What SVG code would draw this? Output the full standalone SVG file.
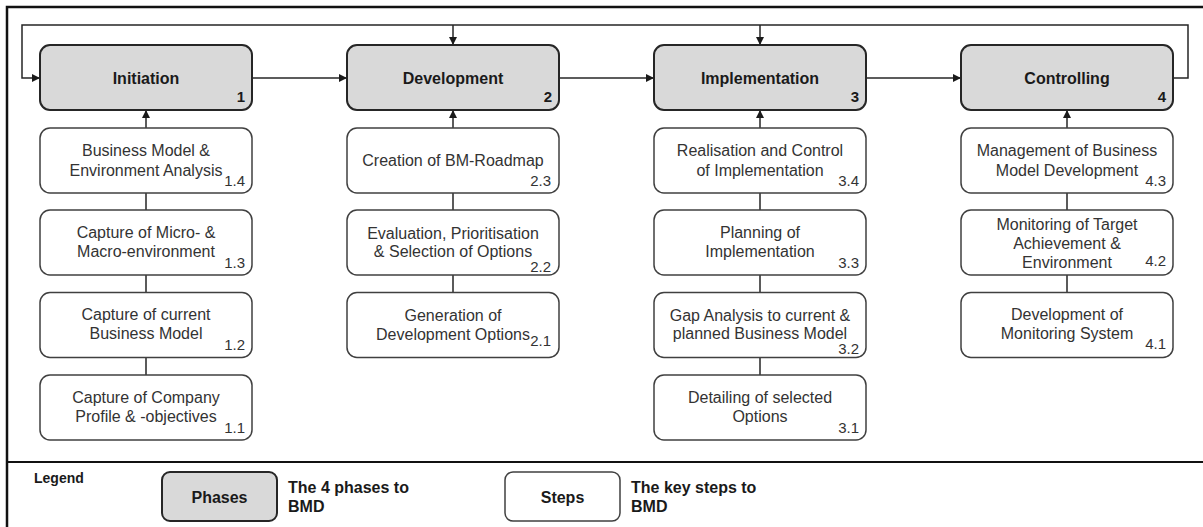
<svg xmlns="http://www.w3.org/2000/svg" width="1203" height="527" viewBox="0 0 1203 527">
  <style>
    .phase { fill: #d9d9d9; stroke: #262626; stroke-width: 2; }
    .step { fill: #ffffff; stroke: #404040; stroke-width: 1.5; }
    .title { font-family: "Liberation Sans", Arial, sans-serif; font-size: 16px; font-weight: bold; fill: #1a1a1a; text-anchor: middle; }
    .pnum { font-family: "Liberation Sans", Arial, sans-serif; font-size: 15px; font-weight: bold; fill: #1a1a1a; text-anchor: end; }
    .txt { font-family: "Liberation Sans", Arial, sans-serif; font-size: 16px; fill: #333333; text-anchor: middle; }
    .snum { font-family: "Liberation Sans", Arial, sans-serif; font-size: 15px; fill: #333333; text-anchor: end; }
    .leg { font-family: "Liberation Sans", Arial, sans-serif; font-weight: bold; fill: #1a1a1a; }
    .conn { fill: none; stroke: #262626; stroke-width: 1.5; }
    .frame { fill: none; stroke: #111111; stroke-width: 2.5; }
  </style>
  <defs>
    <marker id="arrow" viewBox="0 0 10 10" refX="10" refY="5" markerWidth="8" markerHeight="8" markerUnits="userSpaceOnUse" orient="auto">
      <path d="M0,0 L10,5 L0,10 Z" fill="#1a1a1a"/>
    </marker>
  </defs>

  <rect width="1203" height="527" fill="#ffffff"/>

  <!-- outer frame and legend separator -->
  <g id="frame">
    <path class="frame" d="M7,530 V7 H1210"/>
    <line x1="7" y1="462" x2="1203" y2="462" stroke="#111111" stroke-width="2"/>
  </g>

  <!-- connectors -->
  <g id="connectors">
    <path class="conn" d="M1173,78 H1188 V25 H22 V78 H40" marker-end="url(#arrow)"/>
    <path class="conn" d="M453,25 V45" marker-end="url(#arrow)"/>
    <path class="conn" d="M760,25 V45" marker-end="url(#arrow)"/>
    <path class="conn" d="M252,78 H347" marker-end="url(#arrow)"/>
    <path class="conn" d="M559,78 H654" marker-end="url(#arrow)"/>
    <path class="conn" d="M866,78 H961" marker-end="url(#arrow)"/>
    <path class="conn" d="M146,128 V110" marker-end="url(#arrow)"/>
    <path class="conn" d="M453,128 V110" marker-end="url(#arrow)"/>
    <path class="conn" d="M760,128 V110" marker-end="url(#arrow)"/>
    <path class="conn" d="M1067,128 V110" marker-end="url(#arrow)"/>
    <path class="conn" d="M146,193 V210 M146,275 V292.5 M146,357.5 V375"/>
    <path class="conn" d="M453,193 V210 M453,275 V292.5"/>
    <path class="conn" d="M760,193 V210 M760,275 V292.5 M760,357.5 V375"/>
    <path class="conn" d="M1067,193 V210 M1067,275 V292.5"/>
  </g>

  <!-- phases -->
  <g id="phase-1">
    <rect class="phase" x="40" y="45" width="212" height="65" rx="10"/>
    <text class="title" x="146" y="84">Initiation</text>
    <text class="pnum" x="245" y="102">1</text>
  </g>
  <g id="phase-2">
    <rect class="phase" x="347" y="45" width="212" height="65" rx="10"/>
    <text class="title" x="453" y="84">Development</text>
    <text class="pnum" x="552" y="102">2</text>
  </g>
  <g id="phase-3">
    <rect class="phase" x="654" y="45" width="212" height="65" rx="10"/>
    <text class="title" x="760" y="84">Implementation</text>
    <text class="pnum" x="859" y="102">3</text>
  </g>
  <g id="phase-4">
    <rect class="phase" x="961" y="45" width="212" height="65" rx="10"/>
    <text class="title" x="1067" y="84">Controlling</text>
    <text class="pnum" x="1166" y="102">4</text>
  </g>

  <!-- steps: Initiation -->
  <g id="step-1-4">
    <rect class="step" x="40" y="128" width="212" height="65" rx="10"/>
    <text class="txt" x="146" y="156">Business Model &amp;</text>
    <text class="txt" x="146" y="176">Environment Analysis</text>
    <text class="snum" x="245" y="186">1.4</text>
  </g>
  <g id="step-1-3">
    <rect class="step" x="40" y="210" width="212" height="65" rx="10"/>
    <text class="txt" x="146" y="238">Capture of Micro- &amp;</text>
    <text class="txt" x="146" y="257">Macro-environment</text>
    <text class="snum" x="245" y="268">1.3</text>
  </g>
  <g id="step-1-2">
    <rect class="step" x="40" y="292.5" width="212" height="65" rx="10"/>
    <text class="txt" x="146" y="320">Capture of current</text>
    <text class="txt" x="146" y="339">Business Model</text>
    <text class="snum" x="245" y="350">1.2</text>
  </g>
  <g id="step-1-1">
    <rect class="step" x="40" y="375" width="212" height="65" rx="10"/>
    <text class="txt" x="146" y="403">Capture of Company</text>
    <text class="txt" x="146" y="422">Profile &amp; -objectives</text>
    <text class="snum" x="245" y="433">1.1</text>
  </g>

  <!-- steps: Development -->
  <g id="step-2-3">
    <rect class="step" x="347" y="128" width="212" height="65" rx="10"/>
    <text class="txt" x="453" y="166">Creation of BM-Roadmap</text>
    <text class="snum" x="551" y="186">2.3</text>
  </g>
  <g id="step-2-2">
    <rect class="step" x="347" y="210" width="212" height="65" rx="10"/>
    <text class="txt" x="453" y="239">Evaluation, Prioritisation</text>
    <text class="txt" x="453" y="257">&amp; Selection of Options</text>
    <text class="snum" x="551" y="272">2.2</text>
  </g>
  <g id="step-2-1">
    <rect class="step" x="347" y="292.5" width="212" height="65" rx="10"/>
    <text class="txt" x="453" y="321">Generation of</text>
    <text class="txt" x="453" y="340">Development Options</text>
    <text class="snum" x="551" y="346">2.1</text>
  </g>

  <!-- steps: Implementation -->
  <g id="step-3-4">
    <rect class="step" x="654" y="128" width="212" height="65" rx="10"/>
    <text class="txt" x="760" y="156">Realisation and Control</text>
    <text class="txt" x="760" y="176">of Implementation</text>
    <text class="snum" x="859" y="186">3.4</text>
  </g>
  <g id="step-3-3">
    <rect class="step" x="654" y="210" width="212" height="65" rx="10"/>
    <text class="txt" x="760" y="238">Planning of</text>
    <text class="txt" x="760" y="257">Implementation</text>
    <text class="snum" x="859" y="268">3.3</text>
  </g>
  <g id="step-3-2">
    <rect class="step" x="654" y="292.5" width="212" height="65" rx="10"/>
    <text class="txt" x="760" y="321">Gap Analysis to current &amp;</text>
    <text class="txt" x="760" y="339">planned Business Model</text>
    <text class="snum" x="859" y="354">3.2</text>
  </g>
  <g id="step-3-1">
    <rect class="step" x="654" y="375" width="212" height="65" rx="10"/>
    <text class="txt" x="760" y="403">Detailing of selected</text>
    <text class="txt" x="760" y="422">Options</text>
    <text class="snum" x="859" y="433">3.1</text>
  </g>

  <!-- steps: Controlling -->
  <g id="step-4-3">
    <rect class="step" x="961" y="128" width="212" height="65" rx="10"/>
    <text class="txt" x="1067" y="156">Management of Business</text>
    <text class="txt" x="1067" y="176">Model Development</text>
    <text class="snum" x="1166" y="186">4.3</text>
  </g>
  <g id="step-4-2">
    <rect class="step" x="961" y="210" width="212" height="65" rx="10"/>
    <text class="txt" x="1067" y="230">Monitoring of Target</text>
    <text class="txt" x="1067" y="249">Achievement &amp;</text>
    <text class="txt" x="1067" y="268">Environment</text>
    <text class="snum" x="1166" y="266">4.2</text>
  </g>
  <g id="step-4-1">
    <rect class="step" x="961" y="292.5" width="212" height="65" rx="10"/>
    <text class="txt" x="1067" y="320">Development of</text>
    <text class="txt" x="1067" y="339">Monitoring System</text>
    <text class="snum" x="1166" y="349">4.1</text>
  </g>

  <!-- legend -->
  <g id="legend">
    <text class="leg" x="34" y="483" font-size="14">Legend</text>
    <g id="legend-phases">
      <rect class="phase" x="162" y="472" width="115" height="49" rx="8"/>
      <text class="title" x="219.5" y="503">Phases</text>
      <text class="leg" x="288" y="493" font-size="16">The 4 phases to</text>
      <text class="leg" x="288" y="512" font-size="16">BMD</text>
    </g>
    <g id="legend-steps">
      <rect class="step" x="505" y="472" width="115" height="49" rx="8"/>
      <text class="title" x="562.5" y="503">Steps</text>
      <text class="leg" x="631" y="493" font-size="16">The key steps to</text>
      <text class="leg" x="631" y="512" font-size="16">BMD</text>
    </g>
  </g>
</svg>
